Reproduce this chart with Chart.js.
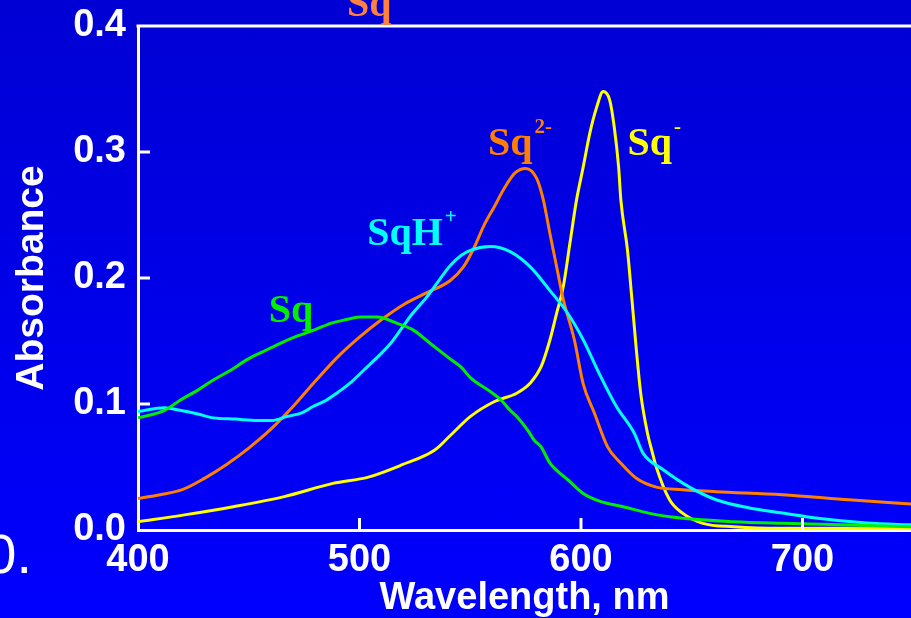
<!DOCTYPE html>
<html>
<head>
<meta charset="utf-8">
<script src="https://cdn.jsdelivr.net/npm/chart.js@4/dist/chart.umd.min.js"></script>
<style>
  html, body { margin: 0; padding: 0; }
  body { width: 911px; height: 618px; overflow: hidden; background: linear-gradient(to bottom, #0000d4, #0000ff); }
  #wrap { position: relative; width: 911px; height: 618px; }
</style>
</head>
<body>
<div id="wrap"><canvas id="chart" width="911" height="618"></canvas></div>
<script>
// wavelength (nm) / absorbance pairs
const sqWl = [400, 412, 419, 427, 434, 442, 449, 457, 464, 472, 480, 487, 494, 500, 508, 517, 524, 532, 540, 546, 550, 559, 564, 568, 571, 576, 579, 582, 586, 594, 601, 609, 619, 631, 646, 669, 691, 721, 750];
const sqAbs = [0.089, 0.095, 0.103, 0.111, 0.119, 0.127, 0.135, 0.142, 0.148, 0.154, 0.159, 0.164, 0.167, 0.169, 0.169, 0.164, 0.159, 0.148, 0.137, 0.129, 0.121, 0.11, 0.103, 0.095, 0.09, 0.079, 0.071, 0.066, 0.053, 0.04, 0.029, 0.0225, 0.0185, 0.0132, 0.0093, 0.0066, 0.0053, 0.004, 0.0026];

const sqhWl = [400, 412, 419, 427, 434, 444, 454, 461, 467, 474, 479, 485, 490, 496, 502, 508, 514, 519, 524, 530, 535, 541, 546, 550, 559, 568, 577, 586, 594, 601, 608, 616, 624, 628, 637, 649, 661, 676, 691, 706, 729, 750];
const sqhAbs = [0.094, 0.097, 0.095, 0.092, 0.089, 0.088, 0.087, 0.087, 0.09, 0.093, 0.098, 0.103, 0.109, 0.117, 0.127, 0.137, 0.148, 0.16, 0.172, 0.184, 0.196, 0.21, 0.218, 0.222, 0.225, 0.221, 0.209, 0.19, 0.172, 0.151, 0.125, 0.098, 0.077, 0.061, 0.048, 0.034, 0.024, 0.0175, 0.0135, 0.0095, 0.0055, 0.004];

const sq2Wl = [400, 410, 420, 430, 440, 450, 460, 470, 480, 490, 500, 510, 520, 530, 541, 547, 552, 556, 561, 565, 570, 575, 580, 583, 586, 589, 592, 597, 601, 606, 612, 618, 625, 634, 646, 661, 691, 721, 750];
const sq2Abs = [0.025, 0.028, 0.032, 0.041, 0.052, 0.065, 0.08, 0.098, 0.118, 0.137, 0.153, 0.167, 0.179, 0.188, 0.198, 0.209, 0.225, 0.241, 0.257, 0.27, 0.283, 0.287, 0.279, 0.262, 0.235, 0.209, 0.183, 0.151, 0.116, 0.093, 0.066, 0.053, 0.041, 0.034, 0.032, 0.0304, 0.028, 0.024, 0.0205];

const sq1Wl = [400, 421, 443, 466, 488, 504, 519, 534, 541, 550, 561, 571, 577, 582, 586, 589, 592, 595, 598, 601, 604, 607, 610, 613, 615, 617, 618, 621, 623, 625, 627, 630, 632, 634, 640, 646, 655, 669, 691, 750];
const sq1Abs = [0.0066, 0.012, 0.0185, 0.0265, 0.037, 0.042, 0.0516, 0.0635, 0.075, 0.09, 0.102, 0.1085, 0.1164, 0.1296, 0.151, 0.172, 0.193, 0.2275, 0.262, 0.288, 0.315, 0.335, 0.348, 0.341, 0.32, 0.288, 0.262, 0.222, 0.183, 0.143, 0.108, 0.077, 0.063, 0.05, 0.024, 0.0132, 0.0053, 0.0026, 0.0013, 0.0013];

const xTicks = [400, 500, 600, 700];
const yTicks = [0, 0.1, 0.2, 0.3, 0.4];

const seriesNames = ['Sq', 'SqH+', 'Sq2-', 'Sq-'];
const seriesColors = ['#00ee00', '#00ffff', '#ff8000', '#ffff00'];

// curve labels, anchored in data units (wavelength, absorbance at text baseline)
const curveLabels = [
  { text: 'Sq', sup: '', x: 459, y: 0.165, color: '#00ee00' },
  { text: 'SqH', sup: '+', x: 503.5, y: 0.226, color: '#00ffff' },
  { text: 'Sq', sup: '2-', x: 558, y: 0.298, color: '#ff8000' },
  { text: 'Sq', sup: '-', x: 621, y: 0.298, color: '#ffff00' }
];

function pairs(xs, ys) {
  return xs.map((x, i) => ({ x: x, y: ys[i] }));
}

const WHITE = '#ffffff';
const SANS = '"Liberation Sans", Arial, sans-serif';
const SERIF = '"Liberation Serif", "Times New Roman", serif';

const extrasPlugin = {
  id: 'extras',
  afterDraw(chart) {
    const { ctx, chartArea, scales } = chart;
    const x = scales.x, y = scales.y;
    ctx.save();
    ctx.strokeStyle = WHITE;
    ctx.lineWidth = 3;
    // top frame line
    ctx.beginPath();
    ctx.moveTo(chartArea.left - 1.5, chartArea.top);
    ctx.lineTo(chartArea.right, chartArea.top);
    ctx.stroke();
    // inward tick marks
    ctx.beginPath();
    xTicks.slice(1).forEach(v => {
      const px = x.getPixelForValue(v);
      ctx.moveTo(px, chartArea.bottom);
      ctx.lineTo(px, chartArea.bottom - 12);
    });
    yTicks.slice(1, -1).forEach(v => {
      const py = y.getPixelForValue(v);
      ctx.moveTo(chartArea.left, py);
      ctx.lineTo(chartArea.left + 12, py);
    });
    ctx.stroke();

    // curve labels with superscripts
    ctx.textBaseline = 'alphabetic';
    ctx.textAlign = 'left';
    curveLabels.forEach(l => {
      const px = x.getPixelForValue(l.x);
      const py = y.getPixelForValue(l.y);
      ctx.fillStyle = l.color;
      ctx.font = 'bold 40px ' + SERIF;
      ctx.fillText(l.text, px, py);
      if (l.sup) {
        const w = ctx.measureText(l.text).width;
        ctx.font = 'bold 21px ' + SERIF;
        ctx.fillText(l.sup, px + w + 2, py - 22);
      }
    });

    // cropped fragments at the picture edges
    ctx.fillStyle = '#ff8040';
    ctx.font = 'bold 40px ' + SERIF;
    ctx.fillText('Sq', 347, 16);
    ctx.fillStyle = WHITE;
    ctx.font = '56px ' + SANS;
    ctx.textAlign = 'right';
    ctx.fillText('0.', 32, 573);
    ctx.restore();
  }
};

new Chart(document.getElementById('chart'), {
  type: 'line',
  data: {
    datasets: [
      { label: seriesNames[0], data: pairs(sqWl, sqAbs), borderColor: seriesColors[0] },
      { label: seriesNames[1], data: pairs(sqhWl, sqhAbs), borderColor: seriesColors[1] },
      { label: seriesNames[2], data: pairs(sq2Wl, sq2Abs), borderColor: seriesColors[2] },
      { label: seriesNames[3], data: pairs(sq1Wl, sq1Abs), borderColor: seriesColors[3] }
    ]
  },
  options: {
    responsive: false,
    animation: false,
    layout: { padding: { top: 26, right: 0, left: 0, bottom: 0 } },
    elements: {
      point: { radius: 0 },
      line: { borderWidth: 3, tension: 0.3, cubicInterpolationMode: 'monotone' }
    },
    plugins: { legend: { display: false }, tooltip: { enabled: false } },
    scales: {
      x: {
        type: 'linear',
        min: 400,
        max: 749,
        afterFit: s => { s.height = 88; s.paddingLeft = 0; s.paddingRight = 0; },
        afterBuildTicks: s => { s.ticks = xTicks.map(v => ({ value: v })); },
        grid: { display: false, drawTicks: false },
        border: { display: true, color: WHITE, width: 3 },
        ticks: {
          color: WHITE,
          padding: 8,
          maxRotation: 0,
          autoSkip: false,
          font: { family: SANS, size: 38, weight: 'bold' },
          callback: v => String(v)
        },
        title: {
          display: true,
          text: 'Wavelength, nm',
          color: WHITE,
          padding: { top: 0, bottom: 0 },
          font: { family: SANS, size: 38, weight: 'bold', lineHeight: 1.05 }
        }
      },
      y: {
        min: 0,
        max: 0.4,
        afterFit: s => { s.width = 138; s.paddingTop = 0; s.paddingBottom = 0; },
        afterBuildTicks: s => { s.ticks = yTicks.map(v => ({ value: v })); },
        grid: { display: false, drawTicks: false },
        border: { display: true, color: WHITE, width: 3 },
        ticks: {
          color: WHITE,
          padding: 12,
          autoSkip: false,
          font: { family: SANS, size: 38, weight: 'bold' },
          callback: v => v.toFixed(1)
        },
        title: {
          display: true,
          text: 'Absorbance',
          color: WHITE,
          padding: { top: 9, bottom: 0 },
          font: { family: SANS, size: 39, weight: 'bold' }
        }
      }
    }
  },
  plugins: [extrasPlugin]
});
</script>
</body>
</html>
